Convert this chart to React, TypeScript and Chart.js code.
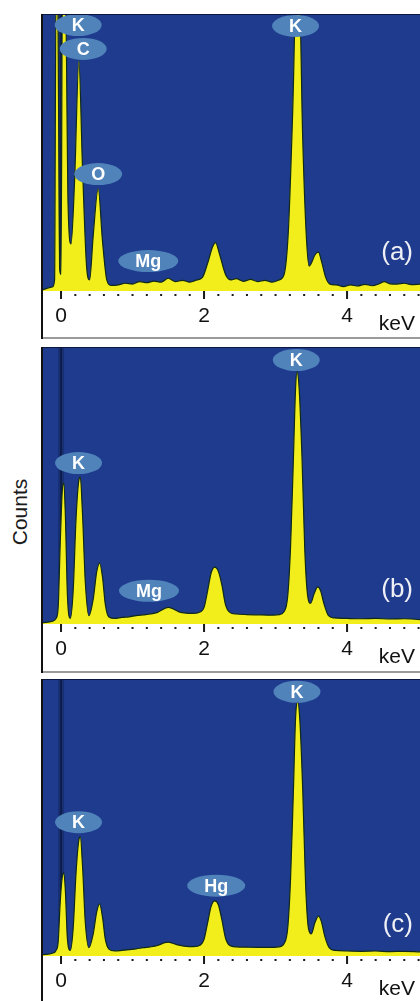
import React, { useEffect, useRef } from 'react';
import { Chart, registerables } from 'chart.js';

Chart.register(...registerables);

// ---------- axis ----------
const X_MIN = -0.252;
const X_MAX = 5.02;
const TICK_VALUES = [0, 0.2, 0.4, 0.6, 0.8, 1.0, 1.2, 1.4, 1.6, 1.8, 2.0, 2.2, 2.4, 2.6, 2.8, 3.0, 3.2, 3.4, 3.6, 3.8, 4.0, 4.2, 4.4, 4.6, 4.8, 5.0];
const MAJOR_TICK_LABELS = [0, 2, 4];
const X_UNIT = 'keV';
const Y_TITLE = 'Counts';

// ---------- panel (a) ----------
const ENERGY_A = [-0.252, -0.12, -0.09, -0.07, -0.045, -0.02, 0.0, 0.02, 0.06, 0.1, 0.14, 0.19, 0.25, 0.3, 0.36, 0.4, 0.45, 0.52, 0.58, 0.64, 0.7, 0.8, 0.9, 1.0, 1.1, 1.2, 1.3, 1.4, 1.5, 1.6, 1.7, 1.8, 1.9, 1.98, 2.05, 2.12, 2.16, 2.22, 2.3, 2.38, 2.45, 2.55, 2.65, 2.75, 2.85, 2.95, 3.05, 3.12, 3.18, 3.24, 3.29, 3.33, 3.38, 3.43, 3.47, 3.5, 3.55, 3.6, 3.64, 3.7, 3.76, 3.85, 3.95, 4.05, 4.15, 4.25, 4.35, 4.45, 4.52, 4.6, 4.7, 4.8, 4.9, 5.02];
const COUNTS_A = [0.5, 1.5, 4, 110, 110, 8, 6, 110, 110, 30, 17, 40, 83, 45, 8, 4, 20, 37, 18, 4, 2, 2.2, 2.8, 2.5, 3.4, 3.0, 3.6, 3.2, 4.6, 3.4, 3.8, 3.2, 4.0, 5, 10, 16, 17.5, 13, 6, 4, 4.5, 3.5, 4.2, 3.4, 3.8, 3.2, 4, 6, 22, 65, 110, 110, 55, 20, 9, 10, 13, 14, 11, 5, 2.5, 2.2, 1.6, 2.2, 1.8, 2.4, 1.9, 2.6, 3.4, 2.6, 2.5, 2.8, 2.3, 2.5];
const LABELS_A = ['K', 'C', 'O', 'Mg', 'K'];
const LABEL_ENERGY_A = [0.24, 0.31, 0.52, 1.22, 3.28];
const LABEL_COUNTS_A = [96, 87.4, 42.2, 10.8, 95.7];

// ---------- panel (b) ----------
const ENERGY_B = [-0.252, -0.12, -0.07, -0.04, -0.01, 0.02, 0.04, 0.06, 0.09, 0.13, 0.17, 0.21, 0.25, 0.27, 0.3, 0.34, 0.39, 0.45, 0.5, 0.54, 0.58, 0.62, 0.67, 0.75, 0.85, 0.95, 1.05, 1.15, 1.25, 1.35, 1.45, 1.5, 1.57, 1.65, 1.75, 1.85, 1.95, 2.0, 2.05, 2.1, 2.15, 2.2, 2.25, 2.3, 2.36, 2.45, 2.6, 2.75, 2.9, 3.05, 3.12, 3.17, 3.21, 3.25, 3.28, 3.3, 3.33, 3.37, 3.41, 3.45, 3.49, 3.54, 3.59, 3.63, 3.68, 3.74, 3.82, 4.0, 4.2, 4.4, 4.6, 4.8, 5.02];
const COUNTS_B = [0.5, 1, 2, 6, 30, 49, 51, 40, 10, 2, 12, 38, 52, 53, 40, 15, 3, 9, 19, 22, 17, 7, 2.5, 2, 2.4, 2.6, 3, 3.3, 3.6, 4.2, 5.6, 6, 5.4, 4.4, 3.9, 3.8, 4.4, 6, 12, 18.5, 20.5, 19, 14, 7, 4.2, 3.6, 3.4, 3.3, 3.2, 3.4, 4.5, 10, 28, 60, 85, 91, 85, 60, 26, 10, 7.5, 11, 13.4, 12, 7, 3, 2.2, 2, 1.9, 2, 1.8, 1.9, 1.6];
const LABELS_B = ['K', 'Mg', 'K'];
const LABEL_ENERGY_B = [0.245, 1.23, 3.29];
const LABEL_COUNTS_B = [58.1, 12, 95.3];

// ---------- panel (c) ----------
const ENERGY_C = [-0.252, -0.12, -0.07, -0.04, -0.01, 0.02, 0.04, 0.06, 0.09, 0.13, 0.17, 0.21, 0.25, 0.27, 0.3, 0.34, 0.39, 0.45, 0.5, 0.54, 0.58, 0.62, 0.67, 0.75, 0.85, 0.95, 1.05, 1.15, 1.25, 1.35, 1.45, 1.5, 1.57, 1.65, 1.75, 1.85, 1.95, 2.0, 2.05, 2.1, 2.15, 2.2, 2.25, 2.3, 2.36, 2.45, 2.6, 2.75, 2.9, 3.05, 3.12, 3.17, 3.21, 3.25, 3.28, 3.31, 3.34, 3.38, 3.42, 3.46, 3.5, 3.55, 3.6, 3.64, 3.69, 3.75, 3.83, 4.0, 4.2, 4.4, 4.6, 4.8, 5.02];
const COUNTS_C = [0.5, 1, 2, 5, 20, 29, 30, 24, 6, 2, 10, 30, 42, 43, 33, 12, 3, 8, 16, 18.8, 14, 6, 2.5, 1.8, 2, 2.3, 2.6, 3, 3.3, 3.8, 4.8, 5, 4.5, 3.9, 3.5, 3.4, 4, 6, 12, 18, 19.9, 18.5, 13, 6.5, 3.8, 3.3, 3.2, 3.1, 3.1, 3.3, 4.5, 10, 28, 60, 86, 91.7, 85, 60, 26, 10, 8, 12, 14.4, 12.5, 7, 3, 2, 1.8, 1.7, 1.8, 1.6, 1.7, 1.5];
const LABELS_C = ['K', 'Hg', 'K'];
const LABEL_ENERGY_C = [0.245, 2.17, 3.3];
const LABEL_COUNTS_C = [48.3, 25.4, 95.4];

const PANEL_TAGS = ['(a)', '(b)', '(c)'];

// ---------- styles ----------
const FONT = '"Liberation Sans", Arial, Helvetica, sans-serif';
const BLUE = '#1f3b8e';
const YELLOW = '#f2ee1c';
const OUTLINE = '#0f2a18';
const BUBBLE = '#4f83ba';

type PanelSpec = {
  energy: number[];
  counts: number[];
  labels: string[];
  labelE: number[];
  labelY: number[];
  tag: string;
  top: number;
  height: number;
  stripH: number;
  tagOffset: number;
  bottomBorder: boolean;
};

const PANELS: PanelSpec[] = [
  { energy: ENERGY_A, counts: COUNTS_A, labels: LABELS_A, labelE: LABEL_ENERGY_A, labelY: LABEL_COUNTS_A, tag: PANEL_TAGS[0], top: 12, height: 327, stripH: 48, tagOffset: 31, bottomBorder: true },
  { energy: ENERGY_B, counts: COUNTS_B, labels: LABELS_B, labelE: LABEL_ENERGY_B, labelY: LABEL_COUNTS_B, tag: PANEL_TAGS[1], top: 345, height: 328, stripH: 49, tagOffset: 27, bottomBorder: true },
  { energy: ENERGY_C, counts: COUNTS_C, labels: LABELS_C, labelE: LABEL_ENERGY_C, labelY: LABEL_COUNTS_C, tag: PANEL_TAGS[2], top: 677, height: 324, stripH: 45, tagOffset: 24, bottomBorder: false },
];

function makeFramePlugin(p: PanelSpec) {
  return {
    id: 'edsFrame',
    beforeDraw(chart: any) {
      const { ctx, chartArea: a, width, height } = chart;
      ctx.save();
      ctx.fillStyle = '#ffffff';
      ctx.fillRect(0, 0, width, height);
      ctx.fillStyle = BLUE;
      ctx.fillRect(a.left, a.top, a.right - a.left, a.bottom - a.top);
      ctx.restore();
    },
    beforeDatasetsDraw(chart: any) {
      const { ctx, chartArea: a, scales } = chart;
      const x0 = scales.x.getPixelForValue(0);
      ctx.save();
      ctx.fillStyle = 'rgba(6,18,52,0.28)';
      ctx.fillRect(x0 - 3, a.top, 6, a.bottom - a.top);
      ctx.fillStyle = 'rgba(3,10,30,0.6)';
      ctx.fillRect(x0 - 0.75, a.top, 1.5, a.bottom - a.top);
      ctx.restore();
    },
    afterDatasetsDraw(chart: any) {
      const { ctx, scales } = chart;
      ctx.save();
      ctx.font = `bold 18px ${FONT}`;
      ctx.textAlign = 'center';
      ctx.textBaseline = 'middle';
      p.labels.forEach((txt, i) => {
        const cx = scales.x.getPixelForValue(p.labelE[i]);
        const cy = scales.y.getPixelForValue(p.labelY[i]);
        const tw = ctx.measureText(txt).width;
        const rx = tw / 2 + 17;
        const ry = 11;
        ctx.fillStyle = BUBBLE;
        ctx.beginPath();
        ctx.ellipse(cx, cy, rx, ry, 0, 0, Math.PI * 2);
        ctx.fill();
        ctx.fillStyle = '#ffffff';
        ctx.fillText(txt, cx, cy + 1);
      });
      ctx.restore();
    },
    afterDraw(chart: any) {
      const { ctx, chartArea: a, scales, height } = chart;
      ctx.save();
      // top edge of plot
      ctx.fillStyle = '#0a1640';
      ctx.fillRect(a.left, a.top, a.right - a.left, 1);
      // left frame
      ctx.fillStyle = '#111111';
      ctx.fillRect(a.left - 2, a.top, 2, height - a.top);
      // strip bottom border
      if (p.bottomBorder) {
        ctx.fillStyle = '#9a9a9a';
        ctx.fillRect(a.left, a.bottom + p.stripH - 2, a.right - a.left, 2);
      }
      // ticks
      ctx.fillStyle = '#1a1a1a';
      TICK_VALUES.forEach((v) => {
        const px = scales.x.getPixelForValue(v);
        if (MAJOR_TICK_LABELS.includes(v)) {
          ctx.fillRect(px - 1, a.bottom, 2, 8);
        } else {
          ctx.fillRect(px - 1, a.bottom + 3, 2, 2);
        }
      });
      // unit
      ctx.font = `21px ${FONT}`;
      ctx.textAlign = 'right';
      ctx.textBaseline = 'alphabetic';
      ctx.fillStyle = '#111111';
      ctx.fillText(X_UNIT, a.right - 5, a.bottom + 39);
      // panel tag
      ctx.font = `26px ${FONT}`;
      ctx.fillStyle = '#eef0f6';
      ctx.fillText(p.tag, a.right - 7, a.bottom - p.tagOffset);
      ctx.restore();
    },
  };
}

function SpectrumPanel({ p }: { p: PanelSpec }) {
  const ref = useRef<HTMLCanvasElement | null>(null);
  useEffect(() => {
    if (!ref.current) return;
    const chart = new Chart(ref.current, {
      type: 'line',
      data: {
        datasets: [
          {
            data: p.energy.map((e, i) => ({ x: e, y: p.counts[i] })),
            fill: 'origin',
            backgroundColor: YELLOW,
            borderColor: OUTLINE,
            borderWidth: 1.2,
            pointRadius: 0,
            cubicInterpolationMode: 'monotone',
          } as any,
        ],
      },
      options: {
        responsive: false,
        animation: false,
        devicePixelRatio: 1,
        layout: { padding: { left: 3, top: 2, right: 0, bottom: 0 } },
        plugins: { legend: { display: false }, tooltip: { enabled: false } },
        scales: {
          x: {
            type: 'linear',
            min: X_MIN,
            max: X_MAX,
            afterBuildTicks: (axis: any) => {
              axis.ticks = TICK_VALUES.map((v) => ({ value: v }));
            },
            afterFit: (axis: any) => {
              axis.height = p.stripH;
              axis.paddingLeft = 0;
              axis.paddingRight = 0;
            },
            grid: { display: false, drawTicks: false },
            border: { display: false },
            ticks: {
              autoSkip: false,
              maxRotation: 0,
              minRotation: 0,
              padding: 13,
              color: '#111111',
              font: { family: FONT, size: 21 },
              callback: (v: any) => (MAJOR_TICK_LABELS.includes(Number(v)) ? String(v) : ''),
            },
          },
          y: { display: false, min: 0, max: 100 },
        },
      } as any,
      plugins: [makeFramePlugin(p)],
    });
    return () => chart.destroy();
  }, [p]);
  return (
    <canvas
      ref={ref}
      width={380}
      height={p.height}
      style={{ position: 'absolute', left: 40, top: p.top, width: 380, height: p.height, display: 'block' }}
    />
  );
}

export default function App() {
  return (
    <div style={{ position: 'absolute', left: 0, top: 0, width: 420, height: 1001, overflow: 'hidden', background: '#ffffff' }}>
      {PANELS.map((p, i) => (
        <SpectrumPanel key={i} p={p} />
      ))}
      <div
        style={{
          position: 'absolute',
          left: -30,
          top: 500,
          width: 100,
          height: 24,
          lineHeight: '24px',
          textAlign: 'center',
          fontFamily: FONT,
          fontSize: 21,
          color: '#1a1a1a',
          transform: 'rotate(-90deg)',
        }}
      >
        {Y_TITLE}
      </div>
    </div>
  );
}
